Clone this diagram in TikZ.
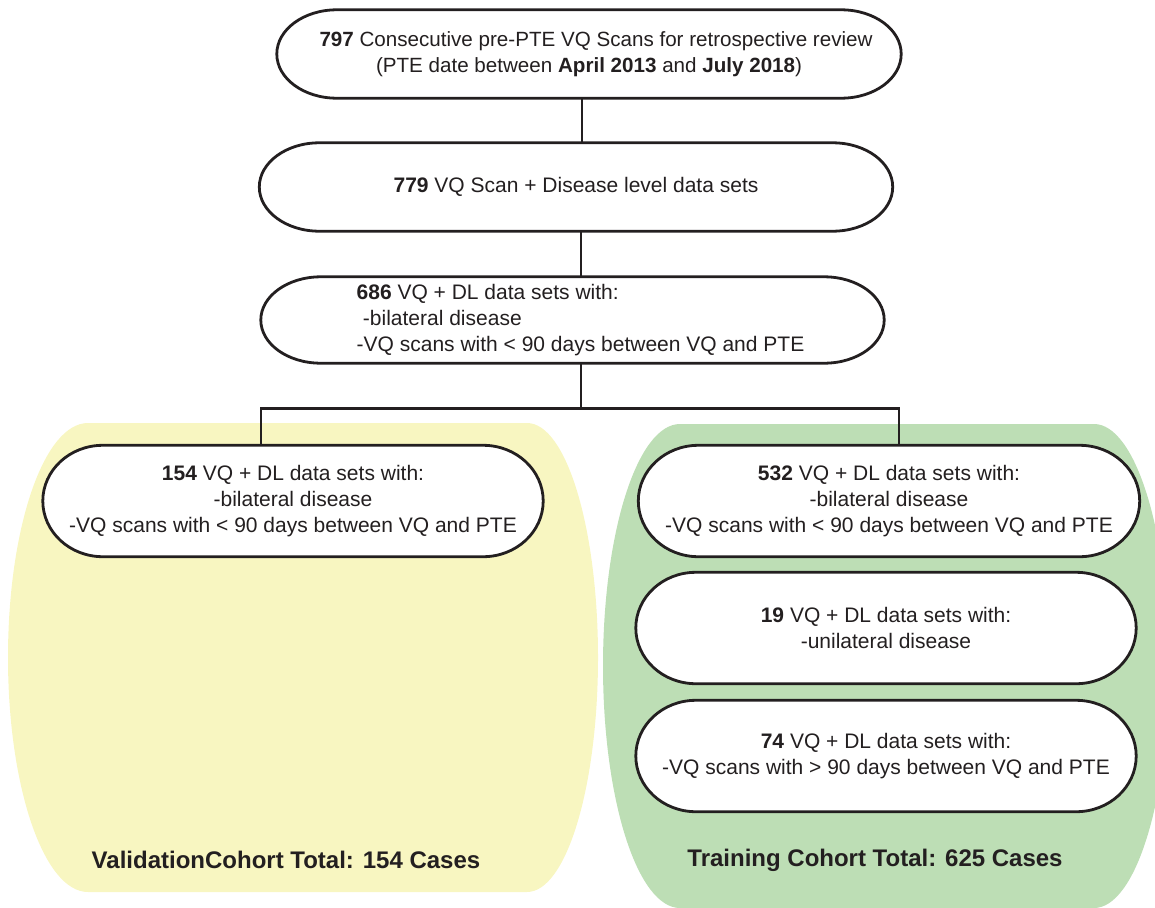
\documentclass[tikz,border=0pt]{standalone}
\usepackage{fontspec}
\setmainfont{Liberation Sans}
\usetikzlibrary{backgrounds,calc}
\definecolor{valy}{HTML}{F8F6C1}
\definecolor{traing}{HTML}{BDDEB5}
\definecolor{ink}{HTML}{231F20}
\tikzset{
  every node/.style={font=\fontsize{21}{26}\selectfont, text=ink},
  stadbox/.style 2 args={minimum width=#1pt, minimum height=#2pt, inner sep=0pt, align=center},
  boxline/.style={draw=ink, line width=2.8pt, fill=white},
  conn/.style={draw=ink, line width=2.8pt, line join=miter},
  cohort/.style={font=\fontsize{24}{28}\selectfont\bfseries},
}
\newcommand{\stadoutline}[1]{%
  \path[boxline] let \p1=(#1.north west), \p2=(#1.south east) in
    ({\x1+60pt},\y1) -- ({\x2-60pt},\y1)
    arc[start angle=90,end angle=-90,x radius=60pt,y radius={(\y1-\y2)/2}]
    -- ({\x1+60pt},\y2)
    arc[start angle=270,end angle=90,x radius=60pt,y radius={(\y1-\y2)/2}]
    -- cycle;}
\begin{document}
\begin{tikzpicture}[x=1pt,y=1pt]
\useasboundingbox (0,0) rectangle (1155,-907);

\node[stadbox={624}{88}, font=\fontsize{20.6}{26}\selectfont] (b1) at (589,-54)
  {\hspace*{14pt}\textbf{797} Consecutive pre-PTE VQ Scans for retrospective review\\(PTE date between \textbf{April 2013} and \textbf{July 2018})};
\node[stadbox={633}{88}] (b2) at (576,-187)
  {\textbf{779} VQ Scan + Disease level data sets};
\node[stadbox={623}{86}, align=left] (b3) at (572.5,-320)
  {\hspace*{16pt}\textbf{686} VQ + DL data sets with:\\\hspace*{16pt}\hspace*{0.3em}-bilateral disease\\\hspace*{16pt}-VQ scans with < 90 days between VQ and PTE};
\node[stadbox={500}{111}] (b4) at (293,-501)
  {\textbf{154} VQ + DL data sets with:\\-bilateral disease\\-VQ scans with < 90 days between VQ and PTE};
\node[stadbox={501}{111}] (b5) at (889,-501)
  {\textbf{532} VQ + DL data sets with:\\-bilateral disease\\-VQ scans with < 90 days between VQ and PTE};
\node[stadbox={500}{111}] (b6) at (886,-628)
  {\textbf{19} VQ + DL data sets with:\\-unilateral disease};
\node[stadbox={500}{111}] (b7) at (886,-756)
  {\textbf{74} VQ + DL data sets with:\\-VQ scans with > 90 days between VQ and PTE};

\node[cohort] (tv) at (286,-860) {ValidationCohort Total: 154 Cases};
\node[cohort] (tt) at (875,-860) {Training Cohort Total: 625 Cases};

\begin{scope}[on background layer]
  \fill[valy] (88,-423) -- (527,-423)
    arc[start angle=90,end angle=-90,x radius=71,y radius=234.5]
    -- (88,-892)
    arc[start angle=270,end angle=90,x radius=80,y radius=234.5] -- cycle;
  \fill[traing] (680,-424) -- (1094,-424)
    arc[start angle=90,end angle=-90,x radius=75,y radius=242]
    -- (680,-908)
    arc[start angle=270,end angle=90,x radius=77,y radius=242] -- cycle;
  \foreach \bx in {b1,b2,b3,b4,b5,b6,b7} {\stadoutline{\bx}}
\end{scope}

\draw[conn] ([xshift=-7pt]b1.south) -- ([xshift=6pt]b2.north);
\draw[conn] ([xshift=5pt]b2.south) -- ([xshift=8.5pt]b3.north);
\coordinate (split) at ([xshift=8.5pt,yshift=-45pt]b3.south);
\draw[conn] ([xshift=8.5pt]b3.south) -- (split);
\draw[conn] ([xshift=-32pt]b4.north) |- (split) -| ([xshift=10pt]b5.north);
\end{tikzpicture}
\end{document}
